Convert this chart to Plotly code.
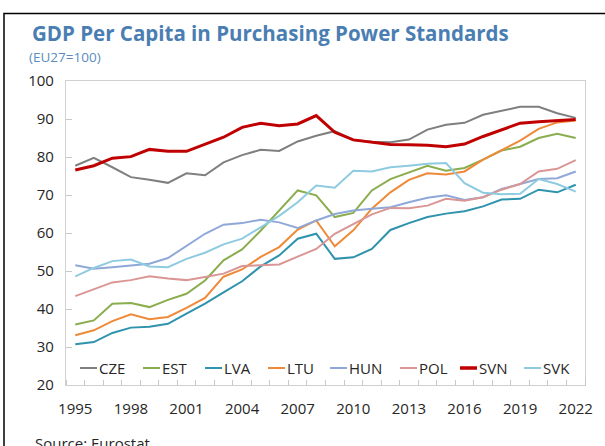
import plotly.graph_objects as go

years = list(range(1995, 2023))
countries = ["CZE", "EST", "LVA", "LTU", "HUN", "POL", "SVN", "SVK"]

cze = [77.7, 79.8, 77.3, 74.7, 74.0, 73.2, 75.7, 75.2, 78.6, 80.5, 81.9, 81.6, 84.1, 85.6,
       86.8, 84.5, 84.0, 83.9, 84.6, 87.2, 88.5, 89.0, 91.1, 92.2, 93.2, 93.2, 91.5, 90.3]
est = [35.9, 37.0, 41.4, 41.6, 40.5, 42.4, 44.0, 47.5, 52.8, 55.7, 60.6, 65.9, 71.2, 69.9,
       64.2, 65.3, 71.2, 74.2, 76.0, 77.7, 76.4, 77.1, 79.3, 81.7, 82.7, 85.0, 86.1, 85.0]
lva = [30.7, 31.3, 33.7, 35.1, 35.3, 36.1, 38.8, 41.4, 44.4, 47.3, 51.2, 54.1, 58.5, 59.8,
       53.2, 53.6, 55.8, 60.8, 62.6, 64.2, 65.1, 65.7, 67.0, 68.8, 69.0, 71.4, 70.7, 72.7]
ltu = [33.1, 34.4, 36.8, 38.6, 37.3, 37.9, 40.3, 42.9, 48.5, 50.4, 53.7, 56.3, 60.9, 63.3,
       56.5, 60.7, 66.4, 70.7, 74.0, 75.7, 75.4, 76.2, 79.3, 81.9, 84.3, 87.4, 89.1, 89.6]
hun = [51.5, 50.6, 51.0, 51.4, 51.9, 53.4, 56.7, 59.8, 62.2, 62.6, 63.5, 62.8, 61.3, 63.3,
       65.0, 65.9, 66.4, 66.8, 68.1, 69.3, 69.9, 68.7, 69.4, 71.6, 72.9, 74.2, 74.4, 76.2]
pol = [43.4, 45.2, 47.0, 47.6, 48.6, 48.0, 47.6, 48.4, 49.3, 51.3, 51.5, 51.7, 53.8, 55.8,
       59.8, 62.4, 64.9, 66.6, 66.5, 67.2, 69.0, 68.5, 69.4, 71.4, 72.9, 76.2, 76.9, 79.2]
svn = [76.6, 77.7, 79.7, 80.1, 82.0, 81.5, 81.5, 83.4, 85.2, 87.8, 88.9, 88.2, 88.7, 90.9,
       86.5, 84.5, 83.9, 83.3, 83.2, 83.1, 82.7, 83.4, 85.4, 87.2, 88.9, 89.3, 89.6, 89.9]
svk = [48.6, 50.8, 52.6, 53.0, 51.2, 51.0, 53.2, 54.8, 57.0, 58.5, 61.5, 64.5, 68.1, 72.5,
       71.9, 76.4, 76.2, 77.3, 77.7, 78.2, 78.4, 73.1, 70.6, 70.2, 70.3, 74.2, 72.9, 70.9]

series = [cze, est, lva, ltu, hun, pol, svn, svk]
colors = ["#7f7f7f", "#8aad4e", "#2f93ad", "#ee8a38", "#8fa8d8", "#d99694", "#c00000", "#8ecbe0"]
widths = [2, 2, 2, 2, 2, 2, 3, 2]

y_ticks = list(range(20, 101, 10))
x_ticks = list(range(1995, 2023, 3))

FONT = "Open Sans"
W, H = 605, 446
L, R, T, B = 66, 20, 81, 61
PW, PH = W - L - R, H - T - B


def px(x):
    return (x - L) / PW


def py(y):
    return (H - B - y) / PH


fig = go.Figure()
for name, vals, c, w in zip(countries, series, colors, widths):
    fig.add_trace(go.Scatter(x=years, y=vals, mode="lines", name=name,
                             line=dict(color=c, width=w), showlegend=False))

shapes = []
annotations = []

# manual legend (short line samples as in the reference)
leg_start = [80, 143, 205, 268, 330, 400, 460, 524]
leg_y = py(368)
for name, c, w, x0 in zip(countries, colors, widths, leg_start):
    shapes.append(dict(type="line", xref="paper", yref="paper",
                       x0=px(x0), x1=px(x0 + 17), y0=leg_y, y1=leg_y,
                       line=dict(color=c, width=w + 0.5 if w > 2 else w)))
    annotations.append(dict(text=name, xref="paper", yref="paper", x=px(x0 + 17), y=leg_y,
                            xanchor="left", yanchor="middle", showarrow=False,
                            font=dict(family=FONT, size=15, color="#262626")))

# outer black frame
shapes.append(dict(type="rect", xref="paper", yref="paper",
                   x0=px(4), x1=px(612), y0=py(470), y1=py(13.5),
                   line=dict(color="#000000", width=1.5), layer="above"))

annotations += [
    dict(text="<b>GDP Per Capita in Purchasing Power Standards</b>", xref="paper", yref="paper",
         x=px(30), y=py(33), xanchor="left", yanchor="middle", showarrow=False,
         font=dict(family=FONT, size=20.5, color="#4a7eb3")),
    dict(text="(EU27=100)", xref="paper", yref="paper",
         x=px(27), y=py(57), xanchor="left", yanchor="middle", showarrow=False,
         font=dict(family=FONT, size=13.5, color="#5b8cc0")),
    dict(text="Source: Eurostat", xref="paper", yref="paper",
         x=px(33), y=py(431), xanchor="left", yanchor="top", showarrow=False,
         font=dict(family=FONT, size=15, color="#262626")),
]

fig.update_layout(
    width=W, height=H,
    margin=dict(l=L, r=R, t=T, b=B),
    paper_bgcolor="white", plot_bgcolor="white",
    showlegend=False,
    shapes=shapes, annotations=annotations,
    font=dict(family=FONT, size=15, color="#262626"),
)
fig.update_xaxes(
    range=[1994.5, 2022.5], tickvals=x_ticks, ticktext=[str(v) for v in x_ticks],
    ticks="", showgrid=False, zeroline=False,
    showline=True, mirror=True, linecolor="#d0d0d0", linewidth=1.2,
    ticklabelstandoff=10,
    minor=dict(tickvals=[1994.5 + i for i in range(29)], ticks="inside", ticklen=5,
               tickcolor="#c8c8c8", tickwidth=1, showgrid=False),
    tickfont=dict(family=FONT, size=15, color="#262626"),
)
fig.update_yaxes(
    range=[20, 100], tickvals=y_ticks, ticks="inside", ticklen=6, tickcolor="#c8c8c8",
    showgrid=False, zeroline=False,
    showline=True, mirror=True, linecolor="#d0d0d0", linewidth=1.2,
    ticklabelstandoff=8,
    tickfont=dict(family=FONT, size=15, color="#262626"),
)

fig.write_html("out.html", config={"displayModeBar": False},
               post_script="document.body.style.margin='0';document.body.style.padding='0';")
